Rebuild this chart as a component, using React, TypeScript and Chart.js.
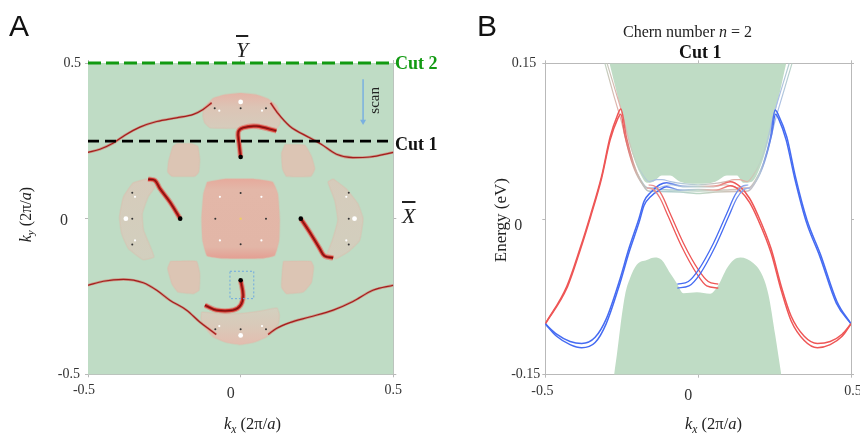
import React, { useEffect, useRef } from "react";
import { Chart, registerables } from "chart.js";

Chart.register(...registerables);

type Pt = [number, number];

/* ---------- Panel A: Fermi surface (kx, ky) ---------- */
const arcTopLeft: Pt[] = [[-0.5,0.213],[-0.461,0.223],[-0.417,0.243],[-0.379,0.268],[-0.33,0.294],[-0.275,0.312],[-0.21,0.324],[-0.155,0.335],[-0.123,0.351],[-0.095,0.372]];
const arcTopRight: Pt[] = [[0.098,0.372],[0.123,0.337],[0.161,0.297],[0.226,0.26],[0.264,0.239],[0.314,0.207],[0.368,0.196],[0.423,0.198],[0.5,0.213]];
const arcBottomLeft: Pt[] = [[-0.5,-0.214],[-0.45,-0.201],[-0.384,-0.195],[-0.319,-0.206],[-0.275,-0.23],[-0.232,-0.262],[-0.177,-0.294],[-0.134,-0.332],[-0.106,-0.353],[-0.08,-0.372]];
const arcBottomRight: Pt[] = [[0.09,-0.372],[0.117,-0.353],[0.161,-0.334],[0.226,-0.316],[0.303,-0.294],[0.368,-0.266],[0.433,-0.23],[0.5,-0.214]];

const hookTop: Pt[] = [[0,0.198],[-0.005,0.241],[-0.008,0.278],[0.008,0.292],[0.052,0.297],[0.117,0.282]];
const hookBottom: Pt[] = [[0,-0.198],[0.008,-0.246],[0,-0.278],[-0.025,-0.294],[-0.079,-0.294],[-0.117,-0.278]];
const hookLeft: Pt[] = [[-0.198,0],[-0.232,0.054],[-0.264,0.096],[-0.281,0.123],[-0.303,0.127]];
const hookRight: Pt[] = [[0.197,0],[0.226,-0.043],[0.259,-0.096],[0.275,-0.12],[0.303,-0.126]];

const pocketTop: Pt[] = [[-0.122,0.355],[-0.09,0.387],[-0.05,0.399],[0,0.404],[0.05,0.399],[0.09,0.385],[0.118,0.362],[0.129,0.335],[0.129,0.305],[0.113,0.285],[0.06,0.288],[0,0.29],[-0.06,0.29],[-0.1,0.292],[-0.118,0.308],[-0.124,0.33],[-0.122,0.355]];
const pocketBottom: Pt[] = [[-0.128,-0.3],[-0.068,-0.305],[-0.003,-0.305],[0.063,-0.297],[0.119,-0.287],[0.127,-0.31],[0.124,-0.337],[0.085,-0.38],[0.041,-0.398],[-0.003,-0.405],[-0.046,-0.398],[-0.09,-0.38],[-0.123,-0.343],[-0.13,-0.32],[-0.128,-0.3]];
const pocketLeft: Pt[] = [[-0.308,0.128],[-0.352,0.115],[-0.384,0.07],[-0.397,0.005],[-0.39,-0.048],[-0.368,-0.096],[-0.319,-0.132],[-0.284,-0.123],[-0.3,-0.08],[-0.318,-0.037],[-0.322,0.016],[-0.303,0.07],[-0.281,0.102],[-0.308,0.128]];
const pocketRight: Pt[] = [[0.303,0.128],[0.346,0.096],[0.384,0.048],[0.401,0],[0.39,-0.07],[0.352,-0.107],[0.314,-0.128],[0.281,-0.123],[0.3,-0.07],[0.318,-0.005],[0.308,0.059],[0.286,0.118],[0.303,0.128]];
const pocketCentre: Pt[] = [[-0.11,0.118],[-0.05,0.128],[0.04,0.128],[0.105,0.118],[0.122,0.08],[0.128,0],[0.126,-0.07],[0.112,-0.118],[0.07,-0.128],[-0.06,-0.128],[-0.11,-0.12],[-0.125,-0.07],[-0.128,0],[-0.122,0.08],[-0.11,0.118]];
const cornerTL: Pt[] = [[-0.21,0.241],[-0.16,0.241],[-0.14,0.232],[-0.134,0.19],[-0.137,0.15],[-0.15,0.136],[-0.225,0.136],[-0.239,0.15],[-0.236,0.185],[-0.222,0.232],[-0.21,0.241]];
const cornerTR: Pt[] = [[0.145,0.238],[0.21,0.236],[0.232,0.2],[0.243,0.16],[0.23,0.136],[0.15,0.136],[0.137,0.16],[0.134,0.21],[0.145,0.238]];
const cornerBL: Pt[] = [[-0.23,-0.137],[-0.145,-0.137],[-0.134,-0.175],[-0.136,-0.23],[-0.155,-0.241],[-0.205,-0.236],[-0.225,-0.21],[-0.239,-0.16],[-0.23,-0.137]];
const cornerBR: Pt[] = [[0.14,-0.137],[0.23,-0.137],[0.239,-0.155],[0.232,-0.205],[0.205,-0.236],[0.15,-0.241],[0.134,-0.22],[0.137,-0.16],[0.14,-0.137]];

const weylPoints: Pt[] = [[0,0.198],[0,-0.198],[-0.198,0],[0.197,0]];
const whiteDots: Pt[] = [[0,0.375],[0,-0.375],[-0.376,0],[0.373,0]];
const blackTicks: Pt[] = [[-0.085,0.355],[0,0.355],[0.083,0.355],[-0.083,0],[0.083,0],[0,0.082],[0,-0.082],[-0.355,0.083],[-0.355,0],[-0.355,-0.083],[0.354,0.083],[0.354,0],[0.354,-0.083],[-0.083,-0.355],[0,-0.355],[0.083,-0.355]];
const whiteTicks: Pt[] = [[-0.07,0.347],[0.07,0.347],[-0.068,0.07],[0.068,0.07],[-0.068,-0.07],[0.068,-0.07],[-0.346,0.07],[-0.346,-0.07],[0.346,0.07],[0.346,-0.07],[-0.07,-0.345],[0.07,-0.345]];
const centreDot: Pt[] = [[0,0]];

const dottedBox: Pt[] = [[-0.035,-0.169],[0.043,-0.169],[0.043,-0.257],[-0.035,-0.257],[-0.035,-0.169]];
const cut1: Pt[] = [[-0.5,0.249],[0.5,0.249]];
const cut2: Pt[] = [[-0.5,0.5],[0.5,0.5]];
const scanArrow: Pt[] = [[0.401,0.448],[0.401,0.312]];

/* ---------- Panel B: band structure (kx, E) ---------- */
const bulkUpper: Pt[] = [[-0.29,0.15],[-0.255,0.108],[-0.234,0.083],[-0.212,0.06],[-0.19,0.044],[-0.168,0.035],[-0.146,0.036],[-0.119,0.042],[-0.092,0.042],[-0.059,0.036],[-0.004,0.034],[0.056,0.036],[0.094,0.042],[0.127,0.042],[0.148,0.035],[0.176,0.036],[0.203,0.05],[0.225,0.07],[0.252,0.102],[0.288,0.15]];
const bulkLower: Pt[] = [[-0.275,-0.15],[-0.266,-0.131],[-0.255,-0.105],[-0.239,-0.073],[-0.223,-0.057],[-0.201,-0.044],[-0.168,-0.0394],[-0.141,-0.037],[-0.119,-0.0394],[-0.092,-0.052],[-0.07,-0.0618],[-0.048,-0.0715],[-0.004,-0.0706],[0.039,-0.072],[0.067,-0.0634],[0.094,-0.0475],[0.116,-0.0394],[0.138,-0.037],[0.181,-0.0427],[0.209,-0.0538],[0.23,-0.073],[0.252,-0.1116],[0.272,-0.15]];

const chiralUpper: Pt[] = [[-0.5,-0.101],[-0.463,-0.111],[-0.419,-0.118],[-0.381,-0.12],[-0.337,-0.114],[-0.301,-0.0965],[-0.258,-0.06],[-0.226,-0.028],[-0.193,0.001],[-0.177,0.017],[-0.154,0.026],[-0.126,0.033],[-0.103,0.035],[-0.059,0.032],[0,0.0315],[0.061,0.032],[0.105,0.036],[0.138,0.031],[0.168,0.02],[0.195,0.004],[0.239,-0.029],[0.272,-0.065],[0.304,-0.0935],[0.347,-0.113],[0.39,-0.12],[0.432,-0.118],[0.471,-0.111],[0.5,-0.101]];
const chiralLower: Pt[] = [[-0.5,-0.101],[-0.463,-0.113],[-0.419,-0.121],[-0.381,-0.124],[-0.337,-0.119],[-0.301,-0.101],[-0.258,-0.064],[-0.226,-0.032],[-0.193,-0.003],[-0.177,0.013],[-0.154,0.022],[-0.126,0.028],[-0.103,0.031],[-0.059,0.028],[0,0.0285],[0.061,0.028],[0.105,0.032],[0.138,0.027],[0.168,0.016],[0.195,0],[0.239,-0.033],[0.272,-0.069],[0.304,-0.098],[0.347,-0.117],[0.39,-0.124],[0.432,-0.121],[0.471,-0.113],[0.5,-0.101]];
const armOuter: Pt[] = [[-0.5,-0.101],[-0.43,-0.065],[-0.386,-0.028],[-0.352,0.004],[-0.316,0.041],[-0.288,0.079],[-0.264,0.1],[-0.253,0.106],[-0.234,0.078],[-0.212,0.054],[-0.19,0.038],[-0.163,0.027],[-0.124,0.0265],[-0.059,0.026],[0,0.0245],[0.059,0.026],[0.124,0.0265],[0.163,0.027],[0.192,0.038],[0.214,0.054],[0.236,0.078],[0.252,0.105],[0.263,0.1],[0.29,0.079],[0.318,0.041],[0.356,-0.001],[0.4,-0.034],[0.454,-0.0795],[0.5,-0.101]];
const armInner: Pt[] = [[-0.5,-0.101],[-0.43,-0.067],[-0.386,-0.03],[-0.352,0.002],[-0.316,0.039],[-0.288,0.076],[-0.264,0.096],[-0.253,0.101],[-0.24,0.081],[-0.218,0.056],[-0.196,0.04],[-0.168,0.03],[-0.124,0.0285],[0,0.027],[0.124,0.0285],[0.168,0.03],[0.196,0.04],[0.218,0.056],[0.24,0.081],[0.253,0.101],[0.264,0.096],[0.288,0.076],[0.316,0.039],[0.354,-0.003],[0.398,-0.036],[0.452,-0.081],[0.5,-0.101]];
const paleOuter: Pt[] = [[-0.305,0.15],[-0.277,0.12],[-0.252,0.095],[-0.231,0.07],[-0.21,0.051],[-0.188,0.038],[-0.165,0.03],[-0.135,0.03],[-0.09,0.033],[-0.05,0.031],[0,0.031],[0.05,0.031],[0.09,0.033],[0.135,0.03],[0.165,0.03],[0.188,0.038],[0.21,0.051],[0.231,0.07],[0.252,0.095],[0.277,0.12],[0.307,0.15]];
const paleInner: Pt[] = [[-0.298,0.15],[-0.27,0.123],[-0.245,0.098],[-0.224,0.073],[-0.203,0.055],[-0.18,0.042],[-0.16,0.036],[-0.135,0.038],[-0.118,0.038],[-0.09,0.036],[-0.05,0.034],[0,0.033],[0.05,0.034],[0.09,0.036],[0.118,0.038],[0.135,0.038],[0.16,0.036],[0.18,0.042],[0.203,0.055],[0.224,0.073],[0.245,0.098],[0.27,0.123],[0.298,0.15]];
const crossBlueA: Pt[] = [[-0.068,-0.0628],[-0.032,-0.0602],[0.001,-0.049],[0.05,-0.0233],[0.094,0.0056],[0.121,0.0232],[0.143,0.0313],[0.164,0.0328]];
const crossBlueB: Pt[] = [[-0.068,-0.0665],[-0.03,-0.0645],[0.006,-0.053],[0.056,-0.0265],[0.1,0.0026],[0.127,0.0202],[0.149,0.0283],[0.17,0.03]];
const crossRedA: Pt[] = [[-0.162,0.0328],[-0.14,0.0313],[-0.119,0.0232],[-0.092,0.0056],[-0.048,-0.0233],[0.001,-0.049],[0.033,-0.0602],[0.066,-0.0628]];
const crossRedB: Pt[] = [[-0.168,0.03],[-0.146,0.0283],[-0.125,0.0202],[-0.098,0.0026],[-0.054,-0.0265],[-0.004,-0.053],[0.028,-0.0645],[0.066,-0.0665]];

const xTickValues = [-0.5, 0, 0.5];
const yTickValuesA = [-0.5, 0, 0.5];
const yTickValuesB = [-0.15, 0, 0.15];

/* ---------- Styling ---------- */
const FIELD = "#bfdcc5";
const BULK = "#bfdcc5";
const RED = "#ee5656";
const BLUE = "#456bf2";
const PALE = "#bcd6c4";
const SERIF = '"Liberation Serif", serif';
const AXIS = "#b9b9b9";

const xy = (pts: Pt[]) => pts.map(([x, y]) => ({ x, y }));

const hGrad = (stops: [number, string][]) => (ctx: any) => {
  const c = ctx.chart;
  if (!c.chartArea) return stops[0][1];
  const s = c.scales.x;
  const g = c.ctx.createLinearGradient(s.getPixelForValue(-0.5), 0, s.getPixelForValue(0.5), 0);
  stops.forEach(([k, col]) => g.addColorStop(k + 0.5, col));
  return g;
};
const vGrad = (from: number, to: number, stops: [number, string][]) => (ctx: any) => {
  const c = ctx.chart;
  if (!c.chartArea) return stops[0][1];
  const s = c.scales.y;
  const g = c.ctx.createLinearGradient(0, s.getPixelForValue(from), 0, s.getPixelForValue(to));
  stops.forEach(([k, col]) => g.addColorStop(k, col));
  return g;
};

const line = (pts: Pt[], color: any, width: number, extra: any = {}) => ({
  data: xy(pts), showLine: true, pointRadius: 0, borderColor: color, borderWidth: width,
  tension: 0.35, fill: false, ...extra,
});
const smooth = { cubicInterpolationMode: "monotone" };
const shape = (pts: Pt[], bg: any) => ({
  data: xy(pts), showLine: true, pointRadius: 0, borderWidth: 1.5,
  borderColor: "rgba(222,185,170,0.35)", backgroundColor: bg, tension: 0.12, fill: "shape",
});
const dots = (pts: Pt[], color: string, r: number) => ({
  data: xy(pts), showLine: false, pointRadius: r, pointBackgroundColor: color, pointBorderWidth: 0, clip: false,
});
const thickRed = (pts: Pt[]) => [
  line(pts, "rgba(232,95,85,0.5)", 5.4),
  line(pts, "#cc2b25", 3.3),
  line(pts, "#7d1010", 1.2),
];
const thinRed = (pts: Pt[]) => [
  line(pts, "rgba(218,70,60,0.45)", 2.6, smooth),
  line(pts, "#a31d1d", 1.2, smooth),
];

/* Per-tick pixel nudges, as in the reference's hand-placed labels. */
const nudgePlugin = {
  id: "nudge",
  beforeDraw(chart: any, _a: any, opts: any) {
    Object.keys(opts.shifts || {}).forEach((id) => {
      const items = chart.scales[id].getLabelItems();
      items.forEach((it: any, i: number) => {
        if (it.__moved) return;
        it.__moved = true;
        const [dx, dy] = opts.shifts[id][i] || [0, 0];
        it.options.translation = [it.options.translation[0] + dx, it.options.translation[1] + dy];
      });
    });
  },
};
const fieldPlugin = {
  id: "field",
  beforeDatasetsDraw(chart: any, _a: any, opts: any) {
    if (!opts.color) return;
    const { left, top, width, height } = chart.chartArea;
    chart.ctx.save();
    chart.ctx.fillStyle = opts.color;
    chart.ctx.fillRect(left, top, width, height);
    chart.ctx.restore();
  },
};

const fixedAxes = (
  xMin: number, xMax: number, yMin: number, yMax: number,
  yTicks: number[], size: { left: number; right: number; top: number; bottom: number },
  tickPad: number,
) => {
  const grid = { drawOnChartArea: false, color: AXIS, tickLength: 3, tickWidth: 1 };
  const border = { color: AXIS, width: 1 };
  const font = (ctx: any) => ({ family: SERIF, size: ctx.tick && ctx.tick.value === 0 ? 16 : 14 });
  const noOverhang = (s: any) => { s.paddingLeft = 0; s.paddingRight = 0; s.paddingTop = 0; s.paddingBottom = 0; };
  const mk = (min: number, max: number, values: number[], position: string, labels: boolean, fit: (s: any) => void, pad: number) => ({
    type: "linear", min, max, position, grid, border,
    afterBuildTicks: (s: any) => { s.ticks = values.map((value) => ({ value })); },
    afterFit: (s: any) => { fit(s); noOverhang(s); },
    ticks: { display: labels, color: "#333", font, padding: pad, maxRotation: 0, autoSkip: false,
      callback: (v: number) => String(v) },
  });
  return {
    x: mk(xMin, xMax, xTickValues, "bottom", true, (s) => { s.height = size.bottom; }, 5),
    y: mk(yMin, yMax, yTicks, "left", true, (s) => { s.width = size.left; }, tickPad),
    x2: mk(xMin, xMax, xTickValues, "top", false, (s) => { s.height = size.top; }, 0),
    y2: mk(yMin, yMax, yTicks, "right", false, (s) => { s.width = size.right; }, 0),
  };
};

const panelADatasets = () => {
  const pinkTop = vGrad(0.41, 0.28, [[0, "#e6b2a5"], [0.4, "#dcc4b5"], [1, "#d5cdbd"]]);
  const pinkBottom = vGrad(-0.41, -0.28, [[0, "#e4bcae"], [0.45, "#dac8b8"], [1, "#d2d1c0"]]);
  const pinkSide = vGrad(0.13, -0.13, [[0, "#d6cbbb"], [1, "#d2cfbe"]]);
  const centre = vGrad(0.13, -0.13, [[0, "#e6a99b"], [0.14, "#e3b7a8"], [0.85, "#e2b6a7"], [1, "#e49e92"]]);
  const list: any[] = [
    shape(pocketTop, pinkTop), shape(pocketBottom, pinkBottom),
    shape(pocketLeft, pinkSide), shape(pocketRight, pinkSide),
    shape(pocketCentre, centre),
    shape(cornerTL, "#dcc5b4"), shape(cornerTR, "#dcc5b4"), shape(cornerBL, "#dcc5b4"), shape(cornerBR, "#dcc5b4"),
    dots(blackTicks, "#333333", 1), dots(whiteTicks, "#ffffff", 1.1), dots(centreDot, "#f0d060", 1.2),
    dots(whiteDots, "#ffffff", 2.4),
    ...thinRed(arcTopLeft), ...thinRed(arcTopRight), ...thinRed(arcBottomLeft), ...thinRed(arcBottomRight),
    ...thickRed(hookTop), ...thickRed(hookBottom), ...thickRed(hookLeft), ...thickRed(hookRight),
    line(dottedBox, "#6fa9df", 1, { borderDash: [2, 2], tension: 0 }),
    line(scanArrow, "#7ab0e0", 1.5, { tension: 0, pointRadius: [0, 3.5], pointStyle: "triangle", pointRotation: 180, pointBackgroundColor: "#7ab0e0", pointBorderWidth: 0 }),
    line(cut1, "#000000", 2.7, { borderDash: [11, 6], tension: 0, clip: false }),
    line(cut2, "#129a12", 3.2, { borderDash: [13, 5], tension: 0, clip: false }),
    dots(weylPoints, "#000000", 2.3),
  ];
  return list.reverse();
};

const panelBDatasets = () => {
  const chiral = hGrad([[-0.5, BLUE], [-0.11, BLUE], [-0.05, "#a9bfe0"], [0, "#bcd0cb"], [0.05, "#e8b0a8"], [0.11, RED], [0.5, RED]]);
  const arms = hGrad([[-0.5, RED], [-0.25, RED], [-0.2, "#cdb7ae"], [-0.14, "#a9c8d2"], [0, PALE], [0.14, "#d7bdb6"], [0.2, "#b5c5d5"], [0.25, BLUE], [0.5, BLUE]]);
  const pale = hGrad([[-0.31, PALE], [-0.26, "#e3aea8"], [-0.2, PALE], [-0.14, "#a8bce6"], [0, "#b9cfd0"], [0.14, "#e7a9a0"], [0.2, PALE], [0.26, "#a9bcea"], [0.31, PALE]]);
  const blueFade = hGrad([[-0.5, BLUE], [0.1, BLUE], [0.16, "#9db4ea"], [0.5, "#9db4ea"]]);
  const redFade = hGrad([[-0.5, "#eba3a0"], [-0.16, "#eba3a0"], [-0.1, RED], [0.5, RED]]);
  const list: any[] = [
    line(bulkUpper, BULK, 0, { backgroundColor: BULK, fill: "end", ...smooth }),
    line(bulkLower, BULK, 0, { backgroundColor: BULK, fill: "start", ...smooth }),
    line(paleOuter, pale, 1.2, smooth), line(paleInner, pale, 1.2, smooth),
    line(armOuter, arms, 1.5, smooth), line(armInner, arms, 1.5, smooth),
    line(chiralUpper, chiral, 1.5, smooth), line(chiralLower, chiral, 1.5, smooth),
    line(crossRedA, redFade, 1.3, smooth), line(crossRedB, redFade, 1.3, smooth),
    line(crossBlueA, blueFade, 1.3, smooth), line(crossBlueB, blueFade, 1.3, smooth),
  ];
  return list.reverse();
};

const makeChart = (canvas: HTMLCanvasElement, datasets: any[], scales: any, shifts: any, field: string | null) =>
  new Chart(canvas, {
    type: "scatter",
    data: { datasets },
    plugins: [nudgePlugin, fieldPlugin],
    options: {
      animation: false, responsive: false, layout: { padding: 0 },
      scales,
      plugins: { legend: { display: false }, tooltip: { enabled: false }, title: { display: false },
        nudge: { shifts }, field: { color: field } } as any,
    },
  } as any);

const text = (left: number, top: number, style: React.CSSProperties = {}): React.CSSProperties => ({
  position: "absolute", left, top, whiteSpace: "nowrap", fontFamily: SERIF, lineHeight: 1, color: "#222", ...style,
});
const Sub = ({ c }: { c: string }) => <sub style={{ fontSize: "70%", fontStyle: "italic", lineHeight: 0 }}>{c}</sub>;

export default function App() {
  const a = useRef<HTMLCanvasElement>(null);
  const b = useRef<HTMLCanvasElement>(null);
  useEffect(() => {
    const ca = makeChart(a.current!, panelADatasets(),
      fixedAxes(-0.5, 0.5, -0.5, 0.5, yTickValuesA, { left: 88, right: 36.7, top: 63, bottom: 58.7 }, 4),
      { x: [[-4, 0], [-10, 2], [0, 0]], y: [[-1, 0], [-13, 2], [0, 0]] }, FIELD);
    const cb = makeChart(b.current!, panelBDatasets(),
      fixedAxes(-0.5, 0.5, -0.15, 0.15, yTickValuesB, { left: 105.3, right: 9, top: 63.3, bottom: 58.3 }, 6),
      { x: [[-3, 0], [-10, 3], [2, 0]], y: [[4, 0], [-14, 7], [0, 0]] }, null);
    return () => { ca.destroy(); cb.destroy(); };
  }, []);
  return (
    <div style={{ position: "absolute", left: 0, top: 0, width: 860, height: 433, overflow: "hidden", background: "#fff", filter: "blur(0.4px)" }}>
      <canvas ref={a} width={430} height={433} style={{ position: "absolute", left: 0, top: 0 }} />
      <canvas ref={b} width={420} height={433} style={{ position: "absolute", left: 440, top: 0 }} />

      <div style={text(9, 11, { fontFamily: '"Liberation Sans", sans-serif', fontSize: 30, color: "#111" })}>A</div>
      <div style={text(477, 11, { fontFamily: '"Liberation Sans", sans-serif', fontSize: 30, color: "#111" })}>B</div>

      <div style={text(236, 39, { fontSize: 22, fontStyle: "italic", textDecoration: "overline" })}>Y</div>
      <div style={text(402, 205, { fontSize: 22, fontStyle: "italic", textDecoration: "overline" })}>X</div>
      <div style={text(395, 54, { fontSize: 18, fontWeight: "bold", color: "#129a12" })}>Cut 2</div>
      <div style={text(395, 135, { fontSize: 18, fontWeight: "bold", color: "#111" })}>Cut 1</div>
      <div style={{ ...text(367, 87, { fontSize: 15 }), writingMode: "vertical-rl", transform: "rotate(180deg)" }}>scan</div>

      <div style={text(224, 416, { fontSize: 16.5 })}><i>k</i><Sub c="x" /> (2π/<i>a</i>)</div>
      <div style={text(685, 416, { fontSize: 16.5 })}><i>k</i><Sub c="x" /> (2π/<i>a</i>)</div>
      <div style={{ ...text(18, 187, { fontSize: 16 }), writingMode: "vertical-rl", transform: "rotate(180deg)" }}><i>k</i><Sub c="y" /> (2π/<i>a</i>)</div>
      <div style={{ ...text(492, 178, { fontSize: 17 }), writingMode: "vertical-rl", transform: "rotate(180deg)" }}>Energy (eV)</div>

      <div style={text(623, 24, { fontSize: 16 })}>Chern number <i>n</i> = 2</div>
      <div style={text(679, 43, { fontSize: 18, fontWeight: "bold", color: "#111" })}>Cut 1</div>
    </div>
  );
}
